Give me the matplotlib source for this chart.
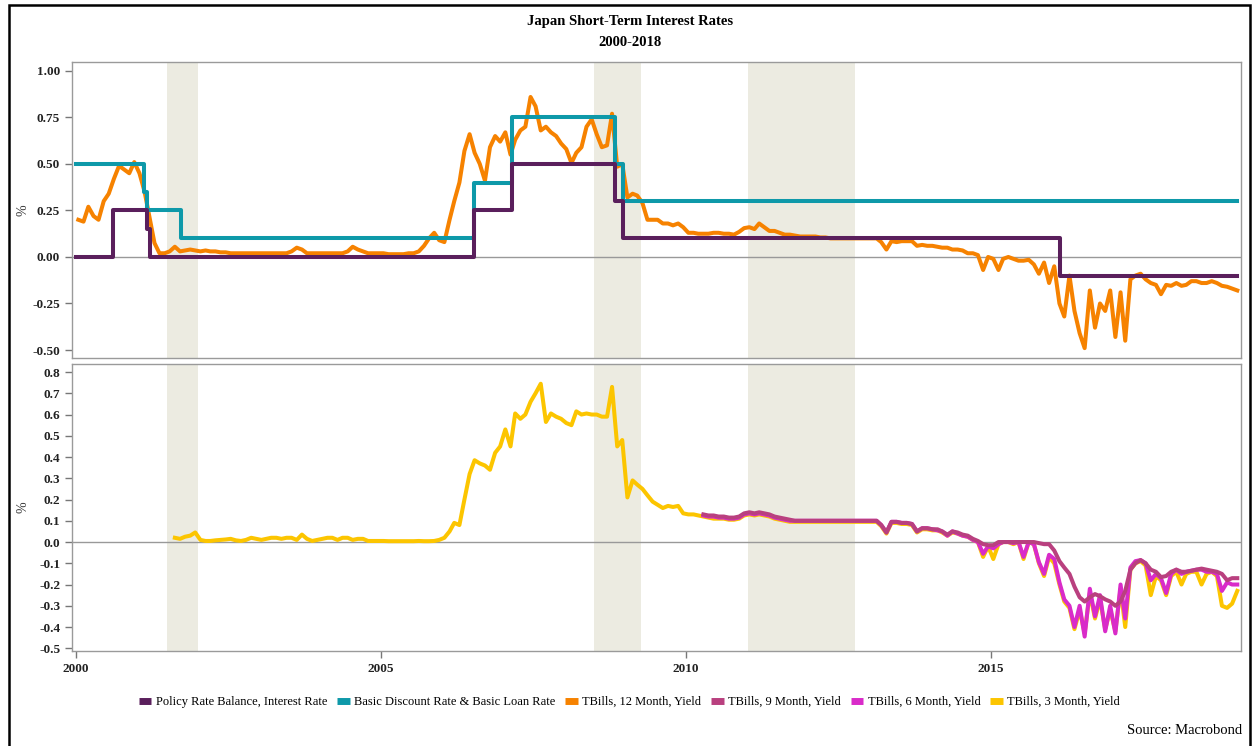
import matplotlib
matplotlib.use("Agg")
import matplotlib.pyplot as plt
import matplotlib.dates as mdates
from matplotlib.lines import Line2D
from matplotlib.patches import Rectangle
import numpy as np
import pandas as pd

plt.rcParams['font.family'] = ['Liberation Serif', 'DejaVu Serif']
plt.rcParams['axes.unicode_minus'] = False

# step series (change dates / values)
policy_dates = ['2000-01-01', '2000-08-11', '2001-02-28', '2001-03-19', '2006-07-14',
                '2007-02-21', '2008-10-31', '2008-12-19', '2016-02-16', '2019-01-15']
policy_vals = [0.0, 0.25, 0.15, 0.0, 0.25, 0.50, 0.30, 0.10, -0.10, -0.10]

discount_dates = ['2000-01-01', '2001-02-13', '2001-03-01', '2001-09-19', '2006-07-14',
                  '2007-02-21', '2008-10-31', '2008-12-19', '2019-01-15']
discount_vals = [0.50, 0.35, 0.25, 0.10, 0.40, 0.75, 0.50, 0.30, 0.30]

# TBills 12M, monthly from Jan 2000 to Jan 2019
tb12 = [0.20, 0.19, 0.27, 0.22, 0.20, 0.30, 0.34, 0.42, 0.49, 0.47, 0.45, 0.51,
        0.45, 0.35, 0.22, 0.075, 0.02, 0.02, 0.03, 0.055, 0.03, 0.035, 0.04, 0.035,
        0.03, 0.035, 0.03, 0.03, 0.025, 0.025, 0.02, 0.02, 0.02, 0.02, 0.02, 0.02,
        0.02, 0.02, 0.02, 0.02, 0.02, 0.02, 0.03, 0.05, 0.04, 0.02, 0.02, 0.02,
        0.02, 0.02, 0.02, 0.02, 0.02, 0.03, 0.055, 0.04, 0.03, 0.02, 0.02, 0.02,
        0.02, 0.015, 0.015, 0.015, 0.015, 0.02, 0.02, 0.03, 0.06, 0.10, 0.13, 0.09,
        0.08, 0.20, 0.30, 0.40, 0.57, 0.66, 0.56, 0.50, 0.41, 0.59, 0.65, 0.62,
        0.67, 0.55, 0.63, 0.68, 0.70, 0.86, 0.81, 0.68, 0.70, 0.67, 0.65, 0.61,
        0.58, 0.505, 0.56, 0.59, 0.70, 0.74, 0.66, 0.59, 0.60, 0.77, 0.485, 0.50,
        0.32, 0.34, 0.33, 0.29, 0.20, 0.20, 0.20, 0.18, 0.18, 0.17, 0.18, 0.16,
        0.13, 0.13, 0.125, 0.125, 0.125, 0.13, 0.13, 0.125, 0.125, 0.12, 0.135, 0.155,
        0.16, 0.15, 0.18, 0.16, 0.14, 0.14, 0.13, 0.12, 0.12, 0.115, 0.11, 0.11,
        0.11, 0.11, 0.105, 0.105, 0.10, 0.10, 0.10, 0.10, 0.10, 0.10, 0.10, 0.10,
        0.10, 0.10, 0.08, 0.04, 0.085, 0.08, 0.085, 0.085, 0.085, 0.06, 0.065, 0.06,
        0.06, 0.055, 0.05, 0.05, 0.04, 0.04, 0.035, 0.02, 0.02, 0.01, -0.07, 0.00,
        -0.01, -0.07, -0.01, 0.0, -0.01, -0.02, -0.02, -0.015, -0.04, -0.09, -0.03, -0.14,
        -0.05, -0.25, -0.32, -0.10, -0.29, -0.41, -0.49, -0.18, -0.38, -0.25, -0.29, -0.18,
        -0.43, -0.19, -0.45, -0.12, -0.10, -0.09, -0.12, -0.14, -0.15, -0.20, -0.15, -0.155,
        -0.14, -0.155, -0.15, -0.13, -0.13, -0.14, -0.14, -0.13, -0.14, -0.155, -0.16, -0.17,
        -0.18]

# TBills 3M, monthly from Aug 2001 to Jan 2019
tb3 = [0.02, 0.015, 0.025, 0.03, 0.045,
       0.01, 0.005, 0.005, 0.008, 0.01, 0.012, 0.015, 0.008, 0.005, 0.01, 0.02, 0.015,
       0.01, 0.015, 0.02, 0.02, 0.015, 0.02, 0.02, 0.01, 0.035, 0.015, 0.005, 0.01,
       0.015, 0.02, 0.02, 0.01, 0.02, 0.02, 0.01, 0.015, 0.015, 0.005, 0.005, 0.005,
       0.005, 0.004, 0.004, 0.004, 0.004, 0.004, 0.004, 0.005, 0.004, 0.004, 0.005, 0.01,
       0.02, 0.05, 0.09, 0.08, 0.20, 0.32, 0.385, 0.37, 0.36, 0.34, 0.42, 0.45,
       0.53, 0.45, 0.605, 0.58, 0.60, 0.66, 0.70, 0.745, 0.565, 0.605, 0.59, 0.58,
       0.56, 0.55, 0.615, 0.60, 0.605, 0.60, 0.60, 0.59, 0.59, 0.73, 0.45, 0.48,
       0.21, 0.29, 0.27, 0.25, 0.22, 0.19, 0.175, 0.16, 0.17, 0.165, 0.17, 0.135,
       0.13, 0.13, 0.125, 0.12, 0.115, 0.11, 0.11, 0.11, 0.105, 0.105, 0.11, 0.125,
       0.13, 0.125, 0.13, 0.125, 0.12, 0.11, 0.105, 0.10, 0.095, 0.095, 0.095, 0.095,
       0.095, 0.095, 0.095, 0.095, 0.095, 0.095, 0.095, 0.095, 0.095, 0.095, 0.095, 0.095,
       0.095, 0.095, 0.075, 0.04, 0.09, 0.09, 0.085, 0.085, 0.08, 0.045, 0.06, 0.06,
       0.055, 0.055, 0.045, 0.03, 0.045, 0.04, 0.03, 0.025, 0.01, 0.0, -0.07, -0.02,
       -0.08, -0.01, 0.0, 0.0, -0.01, 0.0, -0.08, 0.0, -0.01, -0.10, -0.16, -0.07,
       -0.10, -0.20, -0.28, -0.31, -0.41, -0.32, -0.43, -0.24, -0.36, -0.27, -0.41, -0.32,
       -0.42, -0.22, -0.40, -0.13, -0.10, -0.09, -0.11, -0.25, -0.16, -0.18, -0.25, -0.16,
       -0.14, -0.20, -0.15, -0.14, -0.14, -0.20, -0.15, -0.14, -0.16, -0.30, -0.31, -0.29,
       -0.23]

# TBills 6M, monthly from Apr 2010 to Jan 2019
tb6 = [0.125, 0.12, 0.12, 0.115, 0.115, 0.11, 0.11, 0.115, 0.13,
       0.135, 0.13, 0.135, 0.13, 0.125, 0.115, 0.11, 0.105, 0.10, 0.10, 0.10, 0.10,
       0.10, 0.10, 0.10, 0.10, 0.10, 0.10, 0.10, 0.10, 0.10, 0.10, 0.10, 0.10,
       0.10, 0.10, 0.08, 0.045, 0.095, 0.095, 0.09, 0.09, 0.085, 0.05, 0.065, 0.065,
       0.06, 0.055, 0.05, 0.03, 0.05, 0.04, 0.03, 0.025, 0.01, 0.0, -0.055, -0.02,
       -0.03, -0.01, 0.0, 0.0, -0.005, 0.0, -0.07, 0.0, -0.01, -0.095, -0.15, -0.06,
       -0.08, -0.19, -0.27, -0.30, -0.40, -0.30, -0.445, -0.22, -0.35, -0.25, -0.42, -0.30,
       -0.43, -0.20, -0.36, -0.12, -0.09, -0.085, -0.10, -0.18, -0.15, -0.17, -0.24, -0.15,
       -0.13, -0.15, -0.14, -0.135, -0.13, -0.13, -0.14, -0.14, -0.15, -0.23, -0.19, -0.20,
       -0.20]

# TBills 9M, monthly from Apr 2010 to Jan 2019
tb9 = [0.13, 0.125, 0.125, 0.12, 0.12, 0.115, 0.115, 0.12, 0.135,
       0.14, 0.135, 0.14, 0.135, 0.13, 0.12, 0.115, 0.11, 0.105, 0.10, 0.10, 0.10,
       0.10, 0.10, 0.10, 0.10, 0.10, 0.10, 0.10, 0.10, 0.10, 0.10, 0.10, 0.10,
       0.10, 0.10, 0.08, 0.045, 0.095, 0.095, 0.09, 0.09, 0.085, 0.05, 0.065, 0.065,
       0.06, 0.06, 0.05, 0.035, 0.05, 0.045, 0.035, 0.03, 0.015, 0.005, -0.01, -0.015,
       -0.015, 0.0, 0.0, 0.0, 0.0, 0.0, 0.0, 0.0, 0.0, -0.005, -0.01, -0.01,
       -0.04, -0.09, -0.12, -0.15, -0.21, -0.26, -0.28, -0.26, -0.245, -0.255, -0.27, -0.28,
       -0.30, -0.28, -0.23, -0.13, -0.10, -0.085, -0.10, -0.13, -0.14, -0.165, -0.16, -0.14,
       -0.13, -0.14, -0.14, -0.135, -0.13, -0.125, -0.13, -0.135, -0.14, -0.15, -0.18, -0.17,
       -0.17]

recessions = [('2001-07-01', '2002-01-01'), ('2008-07-01', '2009-04-05'),
              ('2011-01-05', '2012-10-07')]

labels = ['Policy Rate Balance, Interest Rate', 'Basic Discount Rate & Basic Loan Rate',
          'TBills, 12 Month, Yield', 'TBills, 9 Month, Yield', 'TBills, 6 Month, Yield',
          'TBills, 3 Month, Yield']
colors = ['#5a1f5c', '#0e99a9', '#f68200', '#b9407f', '#d92bc9', '#fcc500']

mid = pd.Timedelta(days=14)
d12 = pd.date_range('2000-01-01', periods=len(tb12), freq='MS') + mid
d3 = pd.date_range('2001-08-01', periods=len(tb3), freq='MS') + mid
d6 = pd.date_range('2010-04-01', periods=len(tb6), freq='MS') + mid
d9 = pd.date_range('2010-04-01', periods=len(tb9), freq='MS') + mid

fig = plt.figure(figsize=(12.54, 7.46), dpi=100)
ax1 = fig.add_axes([0.0574, 0.5201, 0.9322, 0.3968])
ax2 = fig.add_axes([0.0574, 0.1273, 0.9322, 0.3848])

xmin, xmax = pd.Timestamp('1999-12-08'), pd.Timestamp('2019-02-06')
for ax in (ax1, ax2):
    for a, b in recessions:
        ax.axvspan(pd.Timestamp(a), pd.Timestamp(b), color='#ecebe1', lw=0, zorder=0)
    ax.axhline(0, color='#999999', lw=1, zorder=1)
    ax.set_xlim(xmin, xmax)
    for s in ax.spines.values():
        s.set_color('#9a9a9a')
        s.set_linewidth(1)
    ax.tick_params(axis='y', colors='#777777', labelcolor='#222222', length=5, width=1,
                   labelsize=9.5)
    ax.set_ylabel('%', fontsize=10, color='#333333')
    ax.yaxis.set_label_coords(-0.036, 0.5)

lw = 2.9
ax1.plot(d12, tb12, color=colors[2], lw=lw, zorder=3)
ax1.step(pd.to_datetime(discount_dates), discount_vals, where='post', color=colors[1], lw=lw, zorder=4)
ax1.step(pd.to_datetime(policy_dates), policy_vals, where='post', color=colors[0], lw=lw, zorder=5)
ax1.set_ylim(-0.543, 1.048)
yt1 = [-0.5, -0.25, 0, 0.25, 0.5, 0.75, 1.0]
ax1.set_yticks(yt1)
ax1.set_yticklabels(['%.2f' % v for v in yt1], fontweight='bold')
ax1.set_xticks([])

ax2.plot(d3, tb3, color=colors[5], lw=lw, zorder=3)
ax2.plot(d6, tb6, color=colors[4], lw=lw, zorder=4)
ax2.plot(d9, tb9, color=colors[3], lw=lw, zorder=5)
ax2.set_ylim(-0.513, 0.838)
yt2 = [-0.5, -0.4, -0.3, -0.2, -0.1, 0.0, 0.1, 0.2, 0.3, 0.4, 0.5, 0.6, 0.7, 0.8]
ax2.set_yticks(yt2)
ax2.set_yticklabels(['%.1f' % v for v in yt2], fontweight='bold')
ax2.set_xticks([pd.Timestamp(f'{y}-01-01') for y in (2000, 2005, 2010, 2015)])
ax2.xaxis.set_major_formatter(mdates.DateFormatter('%Y'))
ax2.tick_params(axis='x', colors='#777777', labelcolor='#222222', length=5, width=1,
                labelsize=9.5)
for t in ax2.get_xticklabels():
    t.set_fontweight('bold')

fig.text(0.5025, 1 - 22 / 746, 'Japan Short-Term Interest Rates', ha='center', va='center',
         fontsize=10.5, fontweight='bold')
fig.text(0.5025, 1 - 43 / 746, '2000-2018', ha='center', va='center',
         fontsize=10.5, fontweight='bold')

handles = [Line2D([0], [0], color=c, lw=5, solid_capstyle='butt') for c in colors]
fig.legend(handles, labels, loc='center', bbox_to_anchor=(0.502, 1 - 702 / 746), ncol=6,
           frameon=False, fontsize=9, handlelength=1.0, handletextpad=0.35, columnspacing=0.8)

fig.text(1242 / 1254, 1 - 731 / 746, 'Source: Macrobond', ha='right', va='center', fontsize=10.5)

fig.add_artist(Rectangle((9 / 1254, -0.05), (1250 - 9) / 1254, 1.05 - 5 / 746,
                         transform=fig.transFigure, fill=False, ec='black', lw=1.8))

fig.savefig('out.png', dpi=100)
